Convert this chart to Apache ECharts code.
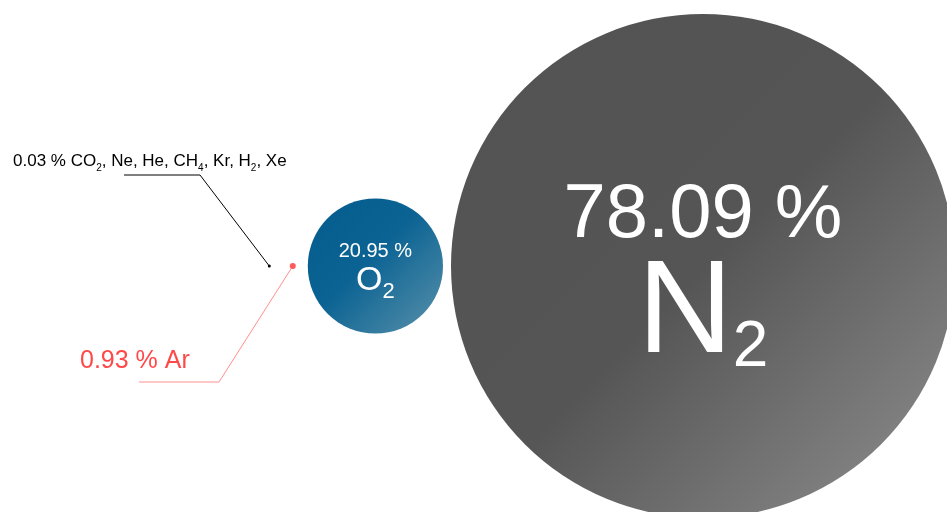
<!DOCTYPE html>
<html>
<head>
<meta charset="utf-8">
<script src="https://cdn.jsdelivr.net/npm/echarts@6/dist/echarts.min.js"></script>
<style>
  html, body { margin: 0; padding: 0; background: #ffffff; }
  #chart { width: 947px; height: 512px; }
</style>
</head>
<body>
<div id="chart"></div>
<script>
// Composition of dry air by volume
const gases = ['N2', 'O2', 'Ar', 'CO2, Ne, He, CH4, Kr, H2, Xe'];
const shares = [78.09, 20.95, 0.93, 0.03];

// ---- layout ----
const FONT = 'Liberation Sans';
const rowY = 266;               // vertical centre of the bubble row
const firstCenterX = 703;       // centre of the largest bubble
const pxPerPct = 252 / 78.09;   // bubble radius per percent
const gaps = [8, 12, 19];       // spacing between neighbouring bubbles
const minR = 1.5;

const radius = v => Math.max(v * pxPerPct, minR);
const radii = shares.map(radius);
const centersX = [];
radii.forEach((r, i) => {
  centersX.push(i === 0 ? firstCenterX : centersX[i - 1] - radii[i - 1] - gaps[i - 1] - r);
});

// chemical formula -> rich text, digits become subscripts
function formula(name, mainStyle, subStyle) {
  return name.split(/(\d+)/).filter(s => s.length)
    .map(s => /^\d+$/.test(s) ? '{' + subStyle + '|' + s + '}' : '{' + mainStyle + '|' + s + '}')
    .join('');
}
const pct = v => v.toFixed(2) + ' %';

const gradient = (c0, mid, c1, c2) => new echarts.graphic.LinearGradient(0, 0, 1, 1, [
  { offset: 0, color: c0 }, { offset: mid, color: c1 }, { offset: 1, color: c2 }
]);

const fills = [
  gradient('#535353', 0.5, '#555555', '#909090'),
  gradient('#035c8d', 0.45, '#0b6393', '#5a91ab'),
  '#ff5a5a',
  '#000000'
];

const insideLabels = [
  {
    show: true, position: 'inside', offset: [3, -10], color: '#ffffff',
    formatter: '{v|' + pct(shares[0]) + '}\n' + formula(gases[0], 'm', 's'),
    rich: {
      v: { fontFamily: FONT, fontSize: 76, lineHeight: 100, color: '#fff' },
      m: { fontFamily: FONT, fontSize: 132, lineHeight: 100, color: '#fff' },
      s: { fontFamily: FONT, fontSize: 64, lineHeight: 100, color: '#fff', padding: [64, 0, 0, 0] }
    }
  },
  {
    show: true, position: 'inside', offset: [0, -2], color: '#ffffff',
    formatter: '{v|' + pct(shares[1]) + '}\n' + formula(gases[1], 'm', 's'),
    rich: {
      v: { fontFamily: FONT, fontSize: 20, lineHeight: 30, color: '#fff' },
      m: { fontFamily: FONT, fontSize: 34, lineHeight: 30, color: '#fff' },
      s: { fontFamily: FONT, fontSize: 22, lineHeight: 30, color: '#fff', padding: [21, 0, 0, 0] }
    }
  },
  {
    show: true, color: '#ff4f4f',
    formatter: '{m|' + pct(shares[2]) + ' }' + formula(gases[2], 'm', 's'),
    rich: {
      m: { fontFamily: FONT, fontSize: 25, lineHeight: 30, color: '#ff4848' },
      s: { fontFamily: FONT, fontSize: 15, lineHeight: 30, color: '#ff4848', padding: [12, 0, 0, 0] }
    }
  },
  {
    show: true, color: '#000000',
    formatter: '{m|' + pct(shares[3]) + ' }' + formula(gases[3], 'm', 's'),
    rich: {
      m: { fontFamily: FONT, fontSize: 17, lineHeight: 20, color: '#000' },
      s: { fontFamily: FONT, fontSize: 10, lineHeight: 20, color: '#000', padding: [14, 0, 0, 0] }
    }
  }
];

// where the outside labels sit and how their leader lines bend
const outsideLabelPos = { 2: [80, 361], 3: [13, 161] };
const leaderBends = {
  2: { corner: [219, 382], end: [139, 382], color: '#ff8f8f' },
  3: { corner: [200, 175], end: [124, 175], color: '#000000' }
};

const bubbleData = gases.map((g, i) => ({
  name: g,
  value: [centersX[i], rowY, shares[i]],
  itemStyle: { color: fills[i], opacity: 1 },
  label: insideLabels[i]
}));

const leaderData = Object.keys(leaderBends).map(k => {
  const i = +k, b = leaderBends[k];
  return { coords: [[centersX[i], rowY], b.corner, b.end], lineStyle: { color: b.color } };
});

const chart = echarts.init(document.getElementById('chart'), null, { renderer: 'canvas' });
chart.setOption({
  animation: false,
  backgroundColor: '#ffffff',
  grid: { left: 0, right: 0, top: 0, bottom: 0 },
  xAxis: { type: 'value', min: 0, max: 947, show: false },
  yAxis: { type: 'value', min: 0, max: 512, inverse: true, show: false },
  series: [
    {
      type: 'lines',
      coordinateSystem: 'cartesian2d',
      polyline: true,
      silent: true,
      z: 1,
      lineStyle: { width: 1, opacity: 1 },
      data: leaderData
    },
    {
      type: 'scatter',
      clip: false,
      silent: true,
      z: 2,
      symbol: 'circle',
      symbolSize: val => 2 * radius(val[2]),
      itemStyle: { opacity: 1 },
      emphasis: { disabled: true },
      labelLayout: p => {
        const pos = outsideLabelPos[p.dataIndex];
        return pos ? { x: pos[0], y: pos[1], align: 'left', verticalAlign: 'middle' } : {};
      },
      data: bubbleData
    }
  ]
});
</script>
</body>
</html>
